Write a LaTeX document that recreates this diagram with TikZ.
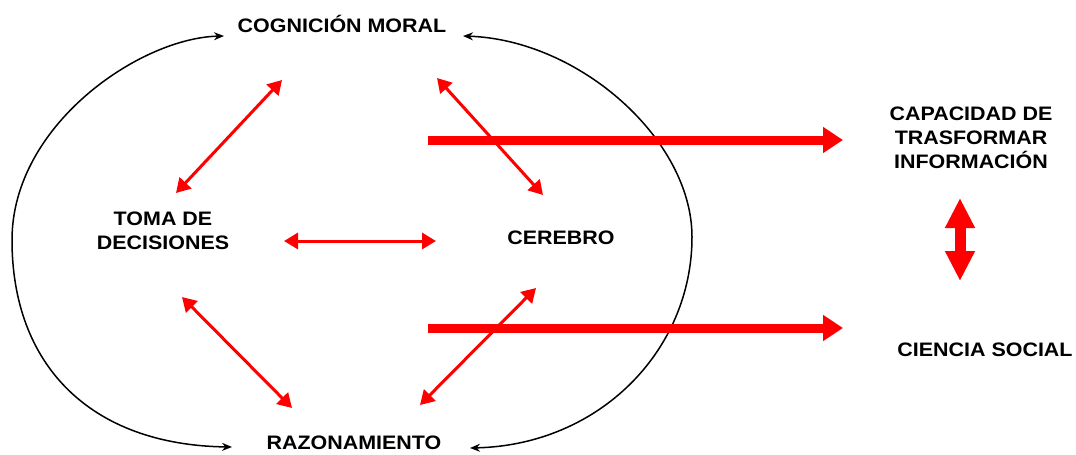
\documentclass[tikz,border=0pt]{standalone}
\usepackage{fontspec}
\setmainfont{Liberation Sans}[FakeStretch=1.1]
\usetikzlibrary{arrows.meta,calc}
\definecolor{rojo}{RGB}{255,0,0}
\begin{document}
\begin{tikzpicture}[x=1pt,y=-1pt,
  lbl/.style={font=\fontsize{19.5}{24}\selectfont\bfseries, align=center, inner sep=0pt},
  redarrow/.style={rojo, line width=3pt, {Triangle[length=14pt,width=16pt]}-{Triangle[length=14pt,width=16pt]}},
  bigarrow/.style={rojo, line width=9pt, -{Triangle[length=20pt,width=25pt]}},
  loop/.style={black, line width=1.5pt, {Stealth[length=10pt,width=8pt]}-{Stealth[length=10pt,width=8pt]}}
]
\useasboundingbox (0,0) rectangle (1076,455);

\node[lbl] (cog) at (342,24) {COGNICIÓN MORAL};
\node[lbl] (toma) at (163,231) {TOMA DE\\DECISIONES};
\node[lbl] (cer) at (561,238) {CEREBRO};
\node[lbl] (raz) at (354,443) {RAZONAMIENTO};
\node[lbl] (cap) at (971,138) {CAPACIDAD DE\\TRASFORMAR\\INFORMACIÓN};
\node[lbl] (cs) at (985,350) {CIENCIA SOCIAL};

% black loops
\draw[loop] ($(cog)+(-118,12)$) .. controls (140,38) and (12,125) .. (12,240)
  .. controls (12,365) and (90,445) .. ($(raz)+(-122,4)$);
\draw[loop] ($(cog)+(121,12)$) .. controls (580,40) and (692,140) .. (692,237)
  .. controls (692,350) and (600,445) .. ($(raz)+(116,5)$);

% thick arrows
\coordinate (s1) at (428,140);
\coordinate (s2) at (428,328);
\draw[bigarrow] (s1) -- ($(cap)+(-128,2)$);
\draw[bigarrow] (s2) -- ($(cs)+(-142,-22)$);

% red thin arrows
\draw[redarrow] ($(toma)+(13,-38)$) -- ($(cog)+(-60,56)$);
\draw[redarrow] ($(cog)+(95,54)$) -- ($(cer)+(-18,-43)$);
\draw[redarrow] ($(toma)+(121,10)$) -- ($(cer)+(-125,3)$);
\draw[redarrow] ($(toma)+(19,66)$) -- ($(raz)+(-62,-35)$);
\draw[redarrow] ($(cer)+(-25,50)$) -- ($(raz)+(66,-38)$);

% vertical double arrow
\draw[rojo, line width=11pt, {Triangle[length=30pt,width=28pt]}-{Triangle[length=30pt,width=28pt]}]
  ($(cap)+(-11,60)$) -- ($(cs)+(-25,-69)$);
\end{tikzpicture}
\end{document}
